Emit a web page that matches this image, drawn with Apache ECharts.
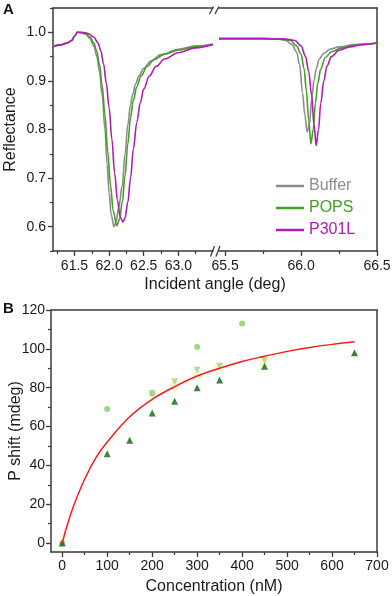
<!DOCTYPE html>
<html><head><meta charset="utf-8">
<script src="https://cdn.jsdelivr.net/npm/echarts@6/dist/echarts.min.js"></script>
<style>html,body{margin:0;padding:0;background:#fff}#c{width:392px;height:596px}</style>
</head><body><div id="c"></div>
<script>
// ---------- Panel A data (angle, reflectance) ----------
const bufferLeft = [[61.19,0.972],[61.30,0.975],[61.40,0.979],[61.46,0.983],[61.50,0.992],[61.54,1.000],[61.60,0.999],[61.66,0.996],[61.72,0.988],[61.78,0.972],[61.82,0.952],[61.86,0.920],[61.90,0.870],[61.94,0.800],[61.97,0.730],[62.00,0.670],[62.03,0.625],[62.07,0.600],[62.10,0.610],[62.14,0.640],[62.19,0.685],[62.23,0.750],[62.27,0.810],[62.31,0.852],[62.34,0.872],[62.38,0.893],[62.43,0.910],[62.50,0.926],[62.60,0.941],[62.75,0.954],[63.00,0.965],[63.25,0.972],[63.50,0.976]];
const popsLeft = [[61.19,0.971],[61.30,0.974],[61.40,0.978],[61.46,0.983],[61.50,0.992],[61.54,1.000],[61.60,0.999],[61.66,0.997],[61.72,0.991],[61.78,0.978],[61.82,0.962],[61.86,0.935],[61.90,0.890],[61.94,0.830],[61.98,0.755],[62.02,0.685],[62.06,0.632],[62.11,0.602],[62.15,0.615],[62.19,0.650],[62.23,0.705],[62.27,0.770],[62.31,0.825],[62.35,0.860],[62.40,0.888],[62.46,0.910],[62.55,0.930],[62.65,0.944],[62.80,0.955],[63.00,0.963],[63.25,0.970],[63.50,0.975]];
const p301lLeft = [[61.19,0.970],[61.30,0.974],[61.40,0.978],[61.46,0.983],[61.50,0.992],[61.54,1.000],[61.60,1.000],[61.66,0.999],[61.72,0.996],[61.78,0.990],[61.84,0.978],[61.88,0.962],[61.92,0.935],[61.96,0.895],[62.00,0.845],[62.04,0.780],[62.08,0.710],[62.12,0.655],[62.16,0.620],[62.20,0.610],[62.23,0.618],[62.27,0.650],[62.31,0.700],[62.35,0.760],[62.40,0.815],[62.45,0.855],[62.50,0.883],[62.58,0.910],[62.68,0.930],[62.80,0.945],[63.00,0.958],[63.25,0.968],[63.50,0.975]];
const bufferRight = [[65.46,0.987],[65.60,0.987],[65.75,0.987],[65.85,0.986],[65.90,0.983],[65.94,0.975],[65.97,0.960],[65.99,0.935],[66.01,0.875],[66.025,0.830],[66.04,0.795],[66.055,0.810],[66.07,0.860],[66.085,0.900],[66.10,0.925],[66.12,0.945],[66.15,0.957],[66.19,0.965],[66.25,0.970],[66.35,0.975],[66.50,0.978]];
const popsRight = [[65.46,0.987],[65.60,0.987],[65.75,0.987],[65.88,0.986],[65.93,0.983],[65.97,0.972],[66.00,0.955],[66.02,0.925],[66.035,0.880],[66.05,0.820],[66.065,0.771],[66.08,0.800],[66.095,0.855],[66.11,0.895],[66.13,0.925],[66.16,0.948],[66.20,0.960],[66.27,0.968],[66.35,0.973],[66.50,0.978]];
const p301lRight = [[65.46,0.987],[65.60,0.987],[65.75,0.987],[65.90,0.986],[65.96,0.983],[66.00,0.972],[66.03,0.950],[66.05,0.920],[66.07,0.870],[66.085,0.810],[66.10,0.767],[66.115,0.800],[66.13,0.855],[66.15,0.900],[66.17,0.930],[66.20,0.950],[66.25,0.963],[66.32,0.970],[66.40,0.975],[66.50,0.978]];
const seriesNamesA = ['Buffer','POPS','P301L'];
const ticksAy = [0.6,0.7,0.8,0.9,1.0];
const minorAy = [0.55,0.65,0.75,0.85,0.95,1.05];
const ticksAxLeft = [61.5,62.0,62.5,63.0];
const minorAxLeft = [61.25,61.75,62.25,62.75,63.25];
const ticksAxRight = [65.5,66.0,66.5];
const minorAxRight = [65.75,66.25];

// ---------- Panel B data (concentration nM, P shift mdeg) ----------
const upTriangles = [[0,0],[100,46],[150,53],[200,67],[250,73],[300,80],[350,84],[450,91],[650,98]];
const circles = [[0,0],[100,69],[200,77],[300,101],[400,113]];
const downTriangles = [[200,77],[250,83],[300,89],[350,91],[450,94]];
const halos = [[250,81],[300,86],[350,90],[450,93]];
const fitCurve = [[0,0],[10,8.4],[25,19],[50,33],[75,44],[100,52],[150,65],[200,74],[250,80.5],[300,86],[350,90],[400,93.5],[450,96.2],[500,98.7],[550,100.7],[600,102.3],[650,103.6]];
const ticksBy = [0,20,40,60,80,100,120];
const minorBy = [10,30,50,70,90,110];
const ticksBx = [0,100,200,300,400,500,600,700];
const minorBx = [50,150,250,350,450,550,650];

const colorsA = ['#8c8c8c','#43a022','#b21cb4'];
const FONT = "'Liberation Sans', Arial, sans-serif";
const AX = '#3a3a3a';
const TXT = '#1a1a1a';

function valAxis(o){
  return Object.assign({
    type:'value', splitLine:{show:false},
    axisLine:{show:true,onZero:false,lineStyle:{color:AX,width:1.5}},
    axisTick:{show:false}, axisLabel:{show:false}
  }, o);
}
function mainAxis(o, ticks, fmt, margin){
  return valAxis(Object.assign(o,{
    axisTick:{show:true,inside:false,length:5,customValues:ticks,lineStyle:{color:AX,width:1.3}},
    axisLabel:{show:true,customValues:ticks,color:TXT,fontSize:14,fontFamily:FONT,margin:margin,formatter:fmt}
  }));
}
function minorAxis(o, ticks){
  return valAxis(Object.assign(o,{
    axisLine:{show:false,onZero:false},
    axisTick:{show:true,inside:false,length:3,customValues:ticks,lineStyle:{color:AX,width:1.2}}
  }));
}
function lineAxis(o){ return valAxis(o); }

const f1 = v => v.toFixed(1);
const f0 = v => String(Math.round(v));

const gridBase = {containLabel:false, outerBoundsMode:'none'};
const grids = [
  Object.assign({left:53, top:8, width:160, height:243}, gridBase),
  Object.assign({left:219, top:8, width:158, height:243}, gridBase),
  Object.assign({left:51, top:310, width:326, height:242}, gridBase)
];
const nameStyle = {fontSize:16,fontFamily:FONT,color:TXT};

const xAxes = [
  mainAxis({gridIndex:0,position:'bottom',min:61.19,max:63.5}, ticksAxLeft, f1, 8),
  minorAxis({gridIndex:0,position:'bottom',min:61.19,max:63.5}, minorAxLeft),
  lineAxis({gridIndex:0,position:'top',min:61.19,max:63.5}),
  mainAxis({gridIndex:1,position:'bottom',min:65.46,max:66.5}, ticksAxRight, f1, 8),
  minorAxis({gridIndex:1,position:'bottom',min:65.46,max:66.5}, minorAxRight),
  lineAxis({gridIndex:1,position:'top',min:65.46,max:66.5}),
  mainAxis({gridIndex:2,position:'bottom',min:-25,max:700,name:'Concentration (nM)',nameLocation:'middle',nameGap:27,nameMoveOverlap:false,nameTextStyle:nameStyle}, ticksBx, f0, 7),
  minorAxis({gridIndex:2,position:'bottom',min:-25,max:700}, minorBx),
  lineAxis({gridIndex:2,position:'top',min:-25,max:700})
];
const yAxes = [
  mainAxis({gridIndex:0,position:'left',min:0.55,max:1.05,name:'Reflectance',nameLocation:'middle',nameGap:34,nameMoveOverlap:false,nameTextStyle:nameStyle}, ticksAy, f1, 7),
  minorAxis({gridIndex:0,position:'left',min:0.55,max:1.05}, minorAy),
  valAxis({gridIndex:1,position:'left',min:0.55,max:1.05,axisLine:{show:false,onZero:false}}),
  lineAxis({gridIndex:1,position:'right',min:0.55,max:1.05}),
  mainAxis({gridIndex:2,position:'left',min:-4.6,max:120,name:'P shift (mdeg)',nameLocation:'middle',nameGap:27,nameMoveOverlap:false,nameTextStyle:nameStyle}, ticksBy, f0, 6),
  minorAxis({gridIndex:2,position:'left',min:-4.6,max:120}, minorBy),
  lineAxis({gridIndex:2,position:'right',min:-4.6,max:120})
];

function curve(name, data, color, xi, yi){
  return {type:'line', name, data, xAxisIndex:xi, yAxisIndex:yi, symbol:'none', showSymbol:false,
    smooth:0.35, smoothMonotone:'x', lineStyle:{color, width:1.6}, itemStyle:{color}, z:3, silent:true};
}
const leftData = [bufferLeft, popsLeft, p301lLeft];
const rightData = [bufferRight, popsRight, p301lRight];
const series = [];
seriesNamesA.forEach((n,i)=>{
  series.push(curve(n, leftData[i], colorsA[i], 0, 0));
  series.push(curve(n, rightData[i], colorsA[i], 3, 2));
});
series.push({type:'scatter', data:halos, xAxisIndex:6, yAxisIndex:4, symbol:'circle', symbolSize:10, itemStyle:{color:'#f1f6cc'}, z:2, silent:true});
series.push({type:'scatter', data:circles, xAxisIndex:6, yAxisIndex:4, symbol:'circle', symbolSize:6, itemStyle:{color:'#7ad35a'}, z:3, silent:true});
series.push({type:'scatter', data:downTriangles, xAxisIndex:6, yAxisIndex:4, symbol:'triangle', symbolRotate:180, symbolSize:7, itemStyle:{color:'#abd27a'}, z:4, silent:true});
series.push({type:'scatter', data:upTriangles, xAxisIndex:6, yAxisIndex:4, symbol:'triangle', symbolSize:7, itemStyle:{color:'#0b660b'}, z:5, silent:true});
series.push({type:'line', data:fitCurve, xAxisIndex:6, yAxisIndex:4, symbol:'none', smooth:0.4, lineStyle:{color:'#ff1a1a', width:1.5}, z:6, silent:true});

const brk = (x1,y1,x2,y2)=>({type:'line', shape:{x1,y1,x2,y2}, style:{stroke:AX, lineWidth:1.3}, z:100});
const chart = echarts.init(document.getElementById('c'), null, {renderer:'canvas'});
chart.setOption({
  animation:false,
  backgroundColor:'#fff',
  grid:grids, xAxis:xAxes, yAxis:yAxes, series,
  legend:{
    orient:'vertical', left:271, top:173, itemWidth:28, itemHeight:2.5, itemGap:6,
    icon:'rect',
    textStyle:{fontSize:16,fontFamily:FONT,lineHeight:16},
    data:[
      {name:'Buffer', textStyle:{color:colorsA[0]}},
      {name:'POPS', textStyle:{color:colorsA[1]}},
      {name:'P301L', textStyle:{color:colorsA[2]}}
    ],
    selectedMode:false
  },
  graphic:[
    {type:'rect', shape:{x:213.5,y:2,width:5,height:14}, style:{fill:'#fff'}, z:99},
    {type:'rect', shape:{x:213.5,y:244,width:5,height:13}, style:{fill:'#fff'}, z:99},
    brk(209.5,14,213.5,6.5), brk(215,14,219,6.5),
    brk(210.5,256.5,214.5,246), brk(216,256.5,220,246),
    {type:'text', x:215, y:285, style:{text:'Incident angle (deg)', fontSize:16, fontFamily:FONT, fill:TXT, align:'center', verticalAlign:'middle'}},
    {type:'text', x:3, y:2, style:{text:'A', fontSize:15, fontWeight:'bold', fontFamily:FONT, fill:'#111'}},
    {type:'text', x:3, y:301, style:{text:'B', fontSize:15, fontWeight:'bold', fontFamily:FONT, fill:'#111'}}
  ]
});
</script></body></html>
